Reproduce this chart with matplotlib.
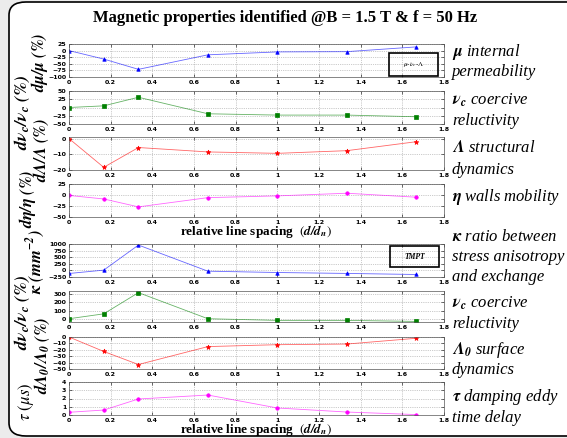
import numpy as np
import matplotlib
matplotlib.use("Agg")
import matplotlib.pyplot as plt
from matplotlib.patches import FancyBboxPatch, Rectangle

plt.rcParams['mathtext.fontset'] = 'stix'
plt.rcParams['font.family'] = 'Liberation Serif'

# relative line spacing d/d_n
x = [0, 1/6, 1/3, 2/3, 1, 4/3, 5/3]

# mu-nu_c-Lambda model
d_mu = [0, -32, -71, -16, -5, -4, 14]
d_nuc = [0, 5, 31, -19, -23, -23, -28]
d_lam = [0, -18.3, -5.7, -8.5, -9.4, -7.7, -2]
d_eta = [-1, -9, -27, -6, -2, 4, -5]

# TMPT model
kappa = [-117, 10, 960, -30, -80, -115, -155]
d_nuc2 = [0, 60, 320, 0, -20, -20, -33]
d_lam0 = [0, -22.6, -43, -15, -12, -11, -2]
tau = [0.33, 0.6, 1.94, 2.42, 0.85, 0.36, 0.05]

xticks = [0, 0.2, 0.4, 0.6, 0.8, 1, 1.2, 1.4, 1.6, 1.8]
xticklabels = ['0', '0.2', '0.4', '0.6', '0.8', '1', '1.2', '1.4', '1.6', '1.8']

W, H = 567, 438
fig = plt.figure(figsize=(W / 100, H / 100), dpi=100)
fig.patch.set_facecolor('#ececec')

# rounded white frame, kept behind the axes
frame = FancyBboxPatch((9 / W, 2 / H), 1.2, 1 - 4 / H, boxstyle='round,pad=0,rounding_size=0.03',
                       transform=fig.transFigure, facecolor='white', edgecolor='black', lw=1.2,
                       zorder=-10)
fig.patches.append(frame)

fig.text(285 / W, 1 - 18 / H, 'Magnetic properties identified @B = 1.5 T & f = 50 Hz',
         ha='center', va='center', fontsize=12, fontweight='bold')

ax_left, ax_right = 69, 444

# (data, color, marker, ylim, yticks, top, bottom)
panels = [
    (d_mu, 'blue', '^', (-100, 25), [-100, -75, -50, -25, 0, 25], 44, 77),
    (d_nuc, 'green', 's', (-50, 50), [-50, -25, 0, 25, 50], 91, 124),
    (d_lam, 'red', '*', (-20, 1), [-20, -10, 0], 137, 170),
    (d_eta, 'magenta', 'o', (-50, 25), [-50, -25, 0, 25], 184, 217),
    (kappa, 'blue', '^', (-250, 1000), [-250, 0, 250, 500, 750, 1000], 244, 277),
    (d_nuc2, 'green', 's', (-40, 340), [0, 100, 200, 300], 291, 322),
    (d_lam0, 'red', '*', (-50, 0), [-50, -40, -30, -20, -10, 0], 337, 369),
    (tau, 'magenta', 'o', (0, 4), [0, 1, 2, 3, 4], 382, 415),
]

axes = []
for vals, col, mk, ylim, yt, top, bot in panels:
    ax = fig.add_axes([ax_left / W, 1 - bot / H, (ax_right - ax_left) / W, (bot - top) / H])
    ax.plot(x, vals, '-', color=col, lw=0.6, alpha=0.6)
    ax.plot(x, vals, ls='none', marker=mk, color=col, ms=2.5 if mk != '*' else 3.5, mew=0.5)
    ax.set_xlim(0, 1.8)
    ax.set_ylim(*ylim)
    ax.set_xticks(xticks)
    ax.set_xticklabels(xticklabels)
    ax.set_yticks(yt)
    ax.grid(True, ls=':', lw=0.5, color='#999999')
    ax.tick_params(direction='in', top=True, right=True, length=2, width=0.4,
                   labelsize=4.5, pad=2)
    for lab in ax.get_xticklabels() + ax.get_yticklabels():
        lab.set_fontweight('bold')
        lab.set_family('DejaVu Sans')
    for s in ax.spines.values():
        s.set_linewidth(0.5)
        s.set_color('#555555')
    axes.append(ax)

# model boxes
axes[0].add_patch(Rectangle((0.854, 0.04), 0.13, 0.68, transform=axes[0].transAxes,
                            fill=False, ec='black', lw=1.2, zorder=5))
axes[0].text(0.919, 0.38, r'$\mu$-$\nu_c$-$\Lambda$', transform=axes[0].transAxes,
             ha='center', va='center', fontsize=5, style='italic', zorder=6)
axes[4].add_patch(Rectangle((0.856, 0.29), 0.13, 0.66, transform=axes[4].transAxes,
                            fill=False, ec='black', lw=1.2, zorder=5))
axes[4].text(0.921, 0.62, 'TMPT', transform=axes[4].transAxes,
             ha='center', va='center', fontsize=5.5, style='italic', fontweight='bold', zorder=6)

# y labels
ylabels = [
    (r'$\mathbfit{d\mu/\mu\ (\%)}$', 39, 62, 12),
    (r'$\mathbfit{d\nu}_{\mathbfit{c}}\mathbfit{/\nu}_{\mathbfit{c}}\ \mathbfit{(\%)}$', 22, 112, 13),
    (r'$\mathbfit{d\Lambda/\Lambda\ (\%)}$', 41, 150, 12),
    (r'$\mathbfit{d\eta/\eta\ (\%)}$', 28, 199, 12),
    (r'$\mathbfit{\kappa\ (mm}^{\mathbfit{-2}}\mathbfit{)}$', 36, 262, 12),
    (r'$\mathbfit{d\nu}_{\mathbfit{c}}\mathbfit{/\nu}_{\mathbfit{c}}\ \mathbfit{(\%)}$', 22, 312, 13),
    (r'$\mathbfit{d\Lambda}_{\mathbfit{0}}\mathbfit{/\Lambda}_{\mathbfit{0}}\ \mathbfit{(\%)}$', 42, 355, 12),
    (r'$\tau\ (\mu s)$', 26, 402, 12),
]
for txt, px, py, fs in ylabels:
    fig.text(px / W, 1 - py / H, txt, rotation=90, ha='center', va='center', fontsize=fs)

# x labels
for py in [232, 430]:
    fig.text((ax_left + ax_right) / 2 / W, 1 - py / H, r'relative line spacing  $(\mathbfit{d/d_n})$',
             ha='center', va='center', fontsize=9.5, fontweight='bold')

# right-hand descriptions
desc = [
    (r'$\mathbfit{\mu}$ internal', 52), ('permeability', 72),
    (r'$\mathbfit{\nu}_{\mathbfit{c}}$ coercive', 100), ('reluctivity', 121),
    (r'$\mathbfit{\Lambda}$ structural', 148), ('dynamics', 170),
    (r'$\mathbfit{\eta}$ walls mobility', 197),
    (r'$\mathbfit{\kappa}$ ratio between', 237), ('stress anisotropy', 257), ('and exchange', 277),
    (r'$\mathbfit{\nu}_{\mathbfit{c}}$ coercive', 303), ('reluctivity', 324),
    (r'$\mathbfit{\Lambda}_{\mathbfit{0}}$ surface', 350), ('dynamics', 370),
    (r'$\mathbfit{\tau}$ damping eddy', 397), ('time delay', 418),
]
for txt, py in desc:
    fig.text(452 / W, 1 - py / H, txt, ha='left', va='center', fontsize=12,
             family='Liberation Serif', style='italic')

fig.savefig('out.png', dpi=100, facecolor=fig.get_facecolor())
